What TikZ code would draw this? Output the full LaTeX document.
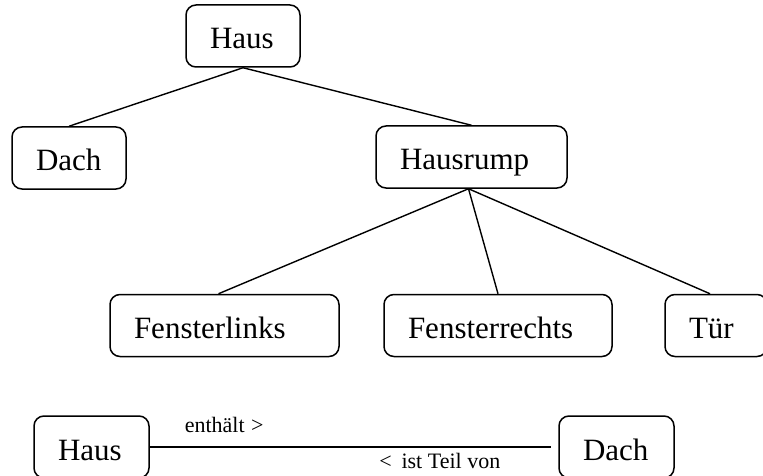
\documentclass[tikz,border=0pt]{standalone}
\usepackage{fontspec}
\setmainfont{Liberation Serif}
\begin{document}
\begin{tikzpicture}[x=1pt,y=-1pt,
  box/.style={draw, rounded corners=10pt, line width=1.5pt,
    text height=44pt, text depth=18pt,
    inner xsep=24pt, inner ysep=0pt, align=left,
    font=\fontsize{31}{36}\selectfont},
  conn/.style={line width=1.4pt},
  rel/.style={line width=2pt},
  lab/.style={font=\fontsize{22}{26}\selectfont, inner sep=0pt}]
\useasboundingbox (0,0) rectangle (763,476);
\node[box, text width=66pt] (haus) at (243,36) {Haus};
\node[box, text width=66pt] (dach) at (69,158) {Dach};
\node[box, text width=143pt] (rump) at (471.5,157) {Hausrump};
\node[box, text width=181pt] (fl) at (224.5,325.5) {Fensterlinks};
\node[box, text width=180pt] (fr) at (498,325.5) {Fensterrechts};
\node[box, text width=54pt] (tuer) at (716,325.5) {Tür};
\draw[conn] (haus.south) -- (dach.north);
\draw[conn] (haus.south) -- (rump.north);
\draw[conn] ([xshift=-3pt]rump.south) -- ([xshift=-6pt]fl.north);
\draw[conn] ([xshift=-3pt]rump.south) -- (fr.north);
\draw[conn] ([xshift=-3pt]rump.south) -- ([xshift=-6pt]tuer.north);
\node[box, text width=67pt] (bh) at (91.5,447) {Haus};
\node[box, text width=67pt] (bd) at (616.5,447) {Dach};
\draw[rel, shorten >=7pt] (bh.east) --
  node[lab, pos=0, anchor=base west, xshift=34pt, yshift=15pt] (l1) {enthält\hspace{0.3em}>}
  node[lab, pos=1, anchor=base east, xshift=-57pt, yshift=-21pt] (l2) {<\hspace{0.45em}ist Teil von}
  (bd.west);
\end{tikzpicture}
\end{document}
